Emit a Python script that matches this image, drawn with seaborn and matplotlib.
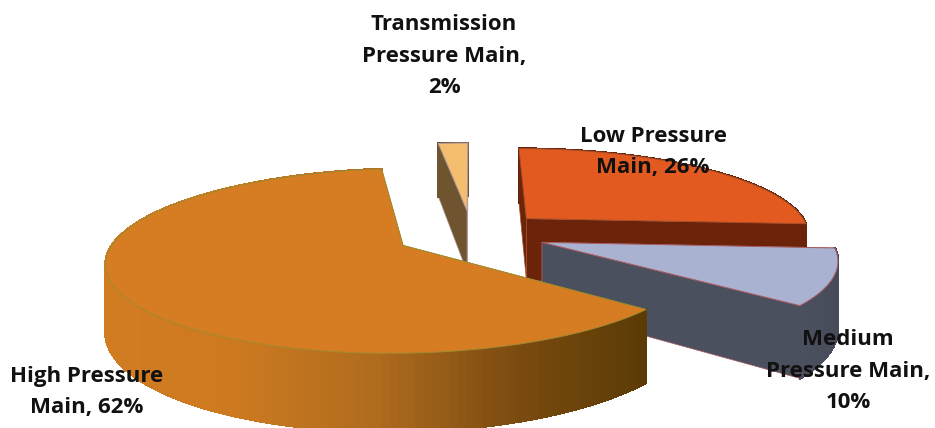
import numpy as np
import matplotlib
matplotlib.use("Agg")
import matplotlib.pyplot as plt
from matplotlib.patches import Polygon
from matplotlib.collections import PolyCollection
import seaborn as sns

# Share of main length by pressure class, in percent
categories = ["Low Pressure\nMain", "Medium\nPressure Main", "High Pressure\nMain", "Transmission\nPressure Main"]
shares = [26, 10, 62, 2]
label_breaks = [", ", ",\n", ", ", ",\n"]
top_colors = ["#E35A20", "#A9B2D0", "#D67D23", "#F4BE6E"]
rim_colors = [["#6B2409", "#6B2409"], ["#4B505F", "#474B59"], ["#D27C22", "#CC7920", "#B06C1E", "#7C4C10", "#5A3B05"], ["#6E5530", "#6E5530"]]
wall_colors = ["#6B2409", "#4B505F", "#5A3B05", "#6E5530"]
edge_colors = ["#A8502A", "#A85A60", "#A08A30", "#B09AA0"]
label_centres = [(653, 152), (848, 371), (87, 392), (444, 56)]

sns.set_theme(style="white")
plt.rcParams["font.family"] = ["Open Sans", "DejaVu Sans"]

# Pie geometry: screen units, viewed in perspective from the front
CX, CY = 472, 234
RADIUS = 285
EXPLODE = [0.27, 0.26, 0.27, 0.28]
THICK = 64
EYE = 6.1
TILT = 86.0
START = 90.0


def project(u, v, z=0.0):
    s = EYE / (EYE + v)
    return CX + RADIUS * u * s, CY - TILT * v * s + z * s


fig = plt.figure(figsize=(9.35, 4.28), dpi=100)
ax = fig.add_axes([0, 0, 1, 1])
ax.set_xlim(0, 935)
ax.set_ylim(428, 0)
ax.axis("off")

# Each slice runs clockwise from the previous one
ends = START - 3.6 * np.cumsum(shares)
starts = np.r_[START, ends[:-1]]

# Paint back to front: transmission, low, medium, high
for i in [3, 0, 1, 2]:
    a0, a1 = starts[i], ends[i]
    mid = np.radians((a0 + a1) / 2)
    u0, v0 = EXPLODE[i] * np.cos(mid), EXPLODE[i] * np.sin(mid)
    th = np.radians(np.linspace(a0, a1, 160))
    us, vs = u0 + np.cos(th), v0 + np.sin(th)
    top = np.array(project(us, vs)).T
    low = np.array(project(us, vs, THICK)).T
    apex = np.array(project(u0, v0))
    apex_low = np.array(project(u0, v0, THICK))

    # Radial walls
    for end_pt, end_low in ((top[0], low[0]), (top[-1], low[-1])):
        ax.add_patch(Polygon([apex, end_pt, end_low, apex_low], closed=True,
                             fc=wall_colors[i], ec=edge_colors[i], lw=0.5,
                             joinstyle="round", zorder=1))

    # Curved outer wall, shaded along its horizontal run
    quads = [[top[k], top[k + 1], low[k + 1], low[k]] for k in range(len(th) - 1)]
    shade = sns.blend_palette(rim_colors[i], 256)
    span_x = top[:, 0]
    frac = (span_x[:-1] - span_x.min()) / max(span_x.max() - span_x.min(), 1)
    facecolors = [shade[int(f * 255)] for f in frac]
    ax.add_collection(PolyCollection(quads, facecolors=facecolors, edgecolors=facecolors,
                                     linewidths=1.2, antialiaseds=False, zorder=1))

    # Top face
    ax.add_patch(Polygon(np.vstack([apex, top]), closed=True, fc=top_colors[i],
                         ec=edge_colors[i], lw=0.7, joinstyle="round", zorder=1))

# Data labels
for name, share, sep, (x, y) in zip(categories, shares, label_breaks, label_centres):
    ax.text(x, y, f"{name}{sep}{share}%", ha="center", va="center", fontsize=16,
            fontweight="bold", color="#111111", linespacing=1.68, zorder=5)

fig.savefig("out.png", dpi=100)
